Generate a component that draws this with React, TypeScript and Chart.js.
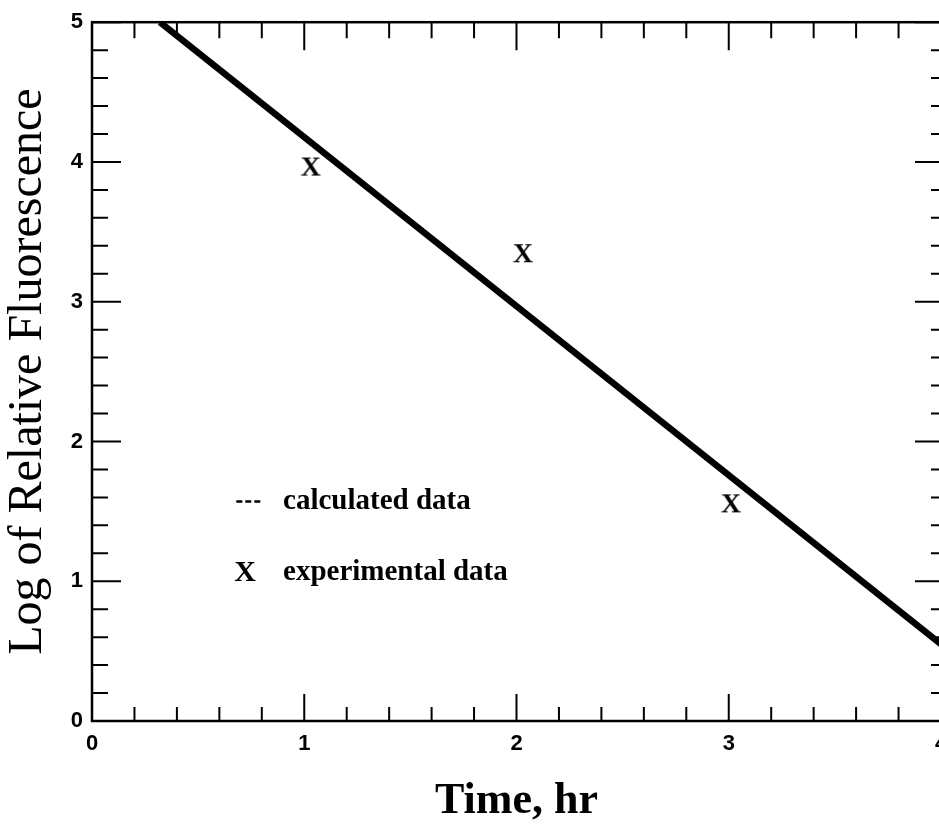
import React, { useEffect, useRef } from 'react';
import { Chart, registerables } from 'chart.js';

Chart.register(...registerables);

// ---- data ----
const calcTime = [0.32, 4.0];
const calcLog = [5.0, 0.55];
const expTime = [1.03, 2.03, 3.01];
const expLog = [3.96, 3.34, 1.55];
const xTickValues = [0, 1, 2, 3, 4];
const yTickValues = [0, 1, 2, 3, 4, 5];
const legendLabels = ['calculated data', 'experimental data'];
const xTitle = 'Time, hr';
const yTitle = 'Log of Relative Fluorescence';
const minorStep = 0.2;

// legend anchor in data units
const legendMarkX = 0.68;
const legendTextX = 0.9;
const legendRowY = [1.57, 1.06];

function makeXMarker(size: number, font: string): HTMLCanvasElement {
  const c = document.createElement('canvas');
  c.width = size;
  c.height = size;
  const ctx = c.getContext('2d')!;
  ctx.fillStyle = '#000';
  ctx.font = font;
  ctx.textAlign = 'center';
  ctx.textBaseline = 'middle';
  ctx.fillText('X', size / 2, size / 2 + 1);
  return c;
}

const framePlugin = {
  id: 'frameTicks',
  afterDraw(chart: any) {
    const { ctx, chartArea: a, scales } = chart;
    const xs = scales.x;
    const ys = scales.y;
    ctx.save();
    ctx.strokeStyle = '#000';
    ctx.lineWidth = 2.5;
    ctx.strokeRect(a.left, a.top, a.right - a.left, a.bottom - a.top);
    ctx.lineWidth = 2;
    ctx.beginPath();
    const nX = Math.round((xs.max - xs.min) / minorStep);
    for (let i = 0; i <= nX; i++) {
      const v = xs.min + i * minorStep;
      const px = xs.getPixelForValue(v);
      const major = Math.abs(v - Math.round(v)) < 1e-6;
      ctx.moveTo(px, a.bottom);
      ctx.lineTo(px, a.bottom - (major ? 27 : 14));
      ctx.moveTo(px, a.top);
      ctx.lineTo(px, a.top + (major ? 28 : 16));
    }
    const nY = Math.round((ys.max - ys.min) / minorStep);
    for (let i = 0; i <= nY; i++) {
      const v = ys.min + i * minorStep;
      const py = ys.getPixelForValue(v);
      const major = Math.abs(v - Math.round(v)) < 1e-6;
      ctx.moveTo(a.left, py);
      ctx.lineTo(a.left + (major ? 29 : 16), py);
      ctx.moveTo(a.right, py);
      ctx.lineTo(a.right - (major ? 26 : 10), py);
    }
    ctx.stroke();

    // legend inside the plot
    const mx = xs.getPixelForValue(legendMarkX);
    const tx = xs.getPixelForValue(legendTextX);
    const r1 = ys.getPixelForValue(legendRowY[0]);
    const r2 = ys.getPixelForValue(legendRowY[1]);
    ctx.setLineDash([6, 3]);
    ctx.lineWidth = 2.5;
    ctx.beginPath();
    ctx.moveTo(mx, r1);
    ctx.lineTo(mx + 24, r1);
    ctx.stroke();
    ctx.setLineDash([]);
    ctx.fillStyle = '#000';
    ctx.textBaseline = 'middle';
    ctx.textAlign = 'left';
    ctx.font = 'bold 29px "Liberation Serif"';
    ctx.fillText(legendLabels[0], tx, r1);
    ctx.fillText(legendLabels[1], tx, r2);
    ctx.font = 'bold 30px "Liberation Serif"';
    ctx.fillText('X', mx - 2, r2);
    ctx.restore();
  },
};

export default function App() {
  const ref = useRef<HTMLCanvasElement | null>(null);

  useEffect(() => {
    if (!ref.current) return;
    const marker = makeXMarker(30, 'bold 28px "Liberation Serif"');
    const chart = new Chart(ref.current, {
      type: 'scatter',
      data: {
        datasets: [
          {
            label: legendLabels[0],
            data: calcTime.map((t, i) => ({ x: t, y: calcLog[i] })),
            showLine: true,
            borderColor: '#000',
            borderWidth: 6.5,
            pointRadius: 0,
            fill: false,
          },
          {
            label: legendLabels[1],
            data: expTime.map((t, i) => ({ x: t, y: expLog[i] })),
            showLine: false,
            pointStyle: marker as any,
            pointRadius: 12,
          },
        ],
      },
      options: {
        animation: false,
        responsive: true,
        maintainAspectRatio: false,
        layout: { padding: { top: 15, right: 19, left: 0, bottom: 0 } },
        plugins: {
          legend: { display: false },
          tooltip: { enabled: false },
        },
        scales: {
          x: {
            type: 'linear',
            min: 0,
            max: 4,
            afterBuildTicks: (s: any) => {
              s.ticks = xTickValues.map((v) => ({ value: v }));
            },
            afterFit: (s: any) => {
              s.height = 114;
            },
            grid: { display: false, drawTicks: false },
            border: { display: false },
            ticks: {
              color: '#000',
              padding: 10,
              font: { family: '"Liberation Sans"', size: 22, weight: 'bold' },
              maxRotation: 0,
            },
            title: {
              display: true,
              text: xTitle,
              color: '#000',
              font: { family: '"Liberation Serif"', size: 44, weight: 'bold' },
              padding: { top: 0, bottom: 7 },
            },
          },
          y: {
            type: 'linear',
            min: 0,
            max: 5,
            afterBuildTicks: (s: any) => {
              s.ticks = yTickValues.map((v) => ({ value: v }));
            },
            afterFit: (s: any) => {
              s.width = 92;
            },
            grid: { display: false, drawTicks: false },
            border: { display: false },
            ticks: {
              color: '#000',
              padding: 9,
              font: { family: '"Liberation Sans"', size: 22, weight: 'bold' },
            },
            title: {
              display: true,
              text: yTitle,
              color: '#000',
              font: { family: '"Liberation Serif"', size: 48, weight: 'normal' },
              padding: { top: 0, bottom: 0 },
            },
          },
        },
      },
      plugins: [framePlugin],
    });
    return () => chart.destroy();
  }, []);

  return (
    <div
      style={{
        position: 'absolute',
        left: 0,
        top: 0,
        width: 939,
        height: 835,
        overflow: 'hidden',
        background: '#fff',
      }}
    >
      <div style={{ width: 960, height: 835, position: 'relative' }}>
        <canvas ref={ref} />
      </div>
    </div>
  );
}
